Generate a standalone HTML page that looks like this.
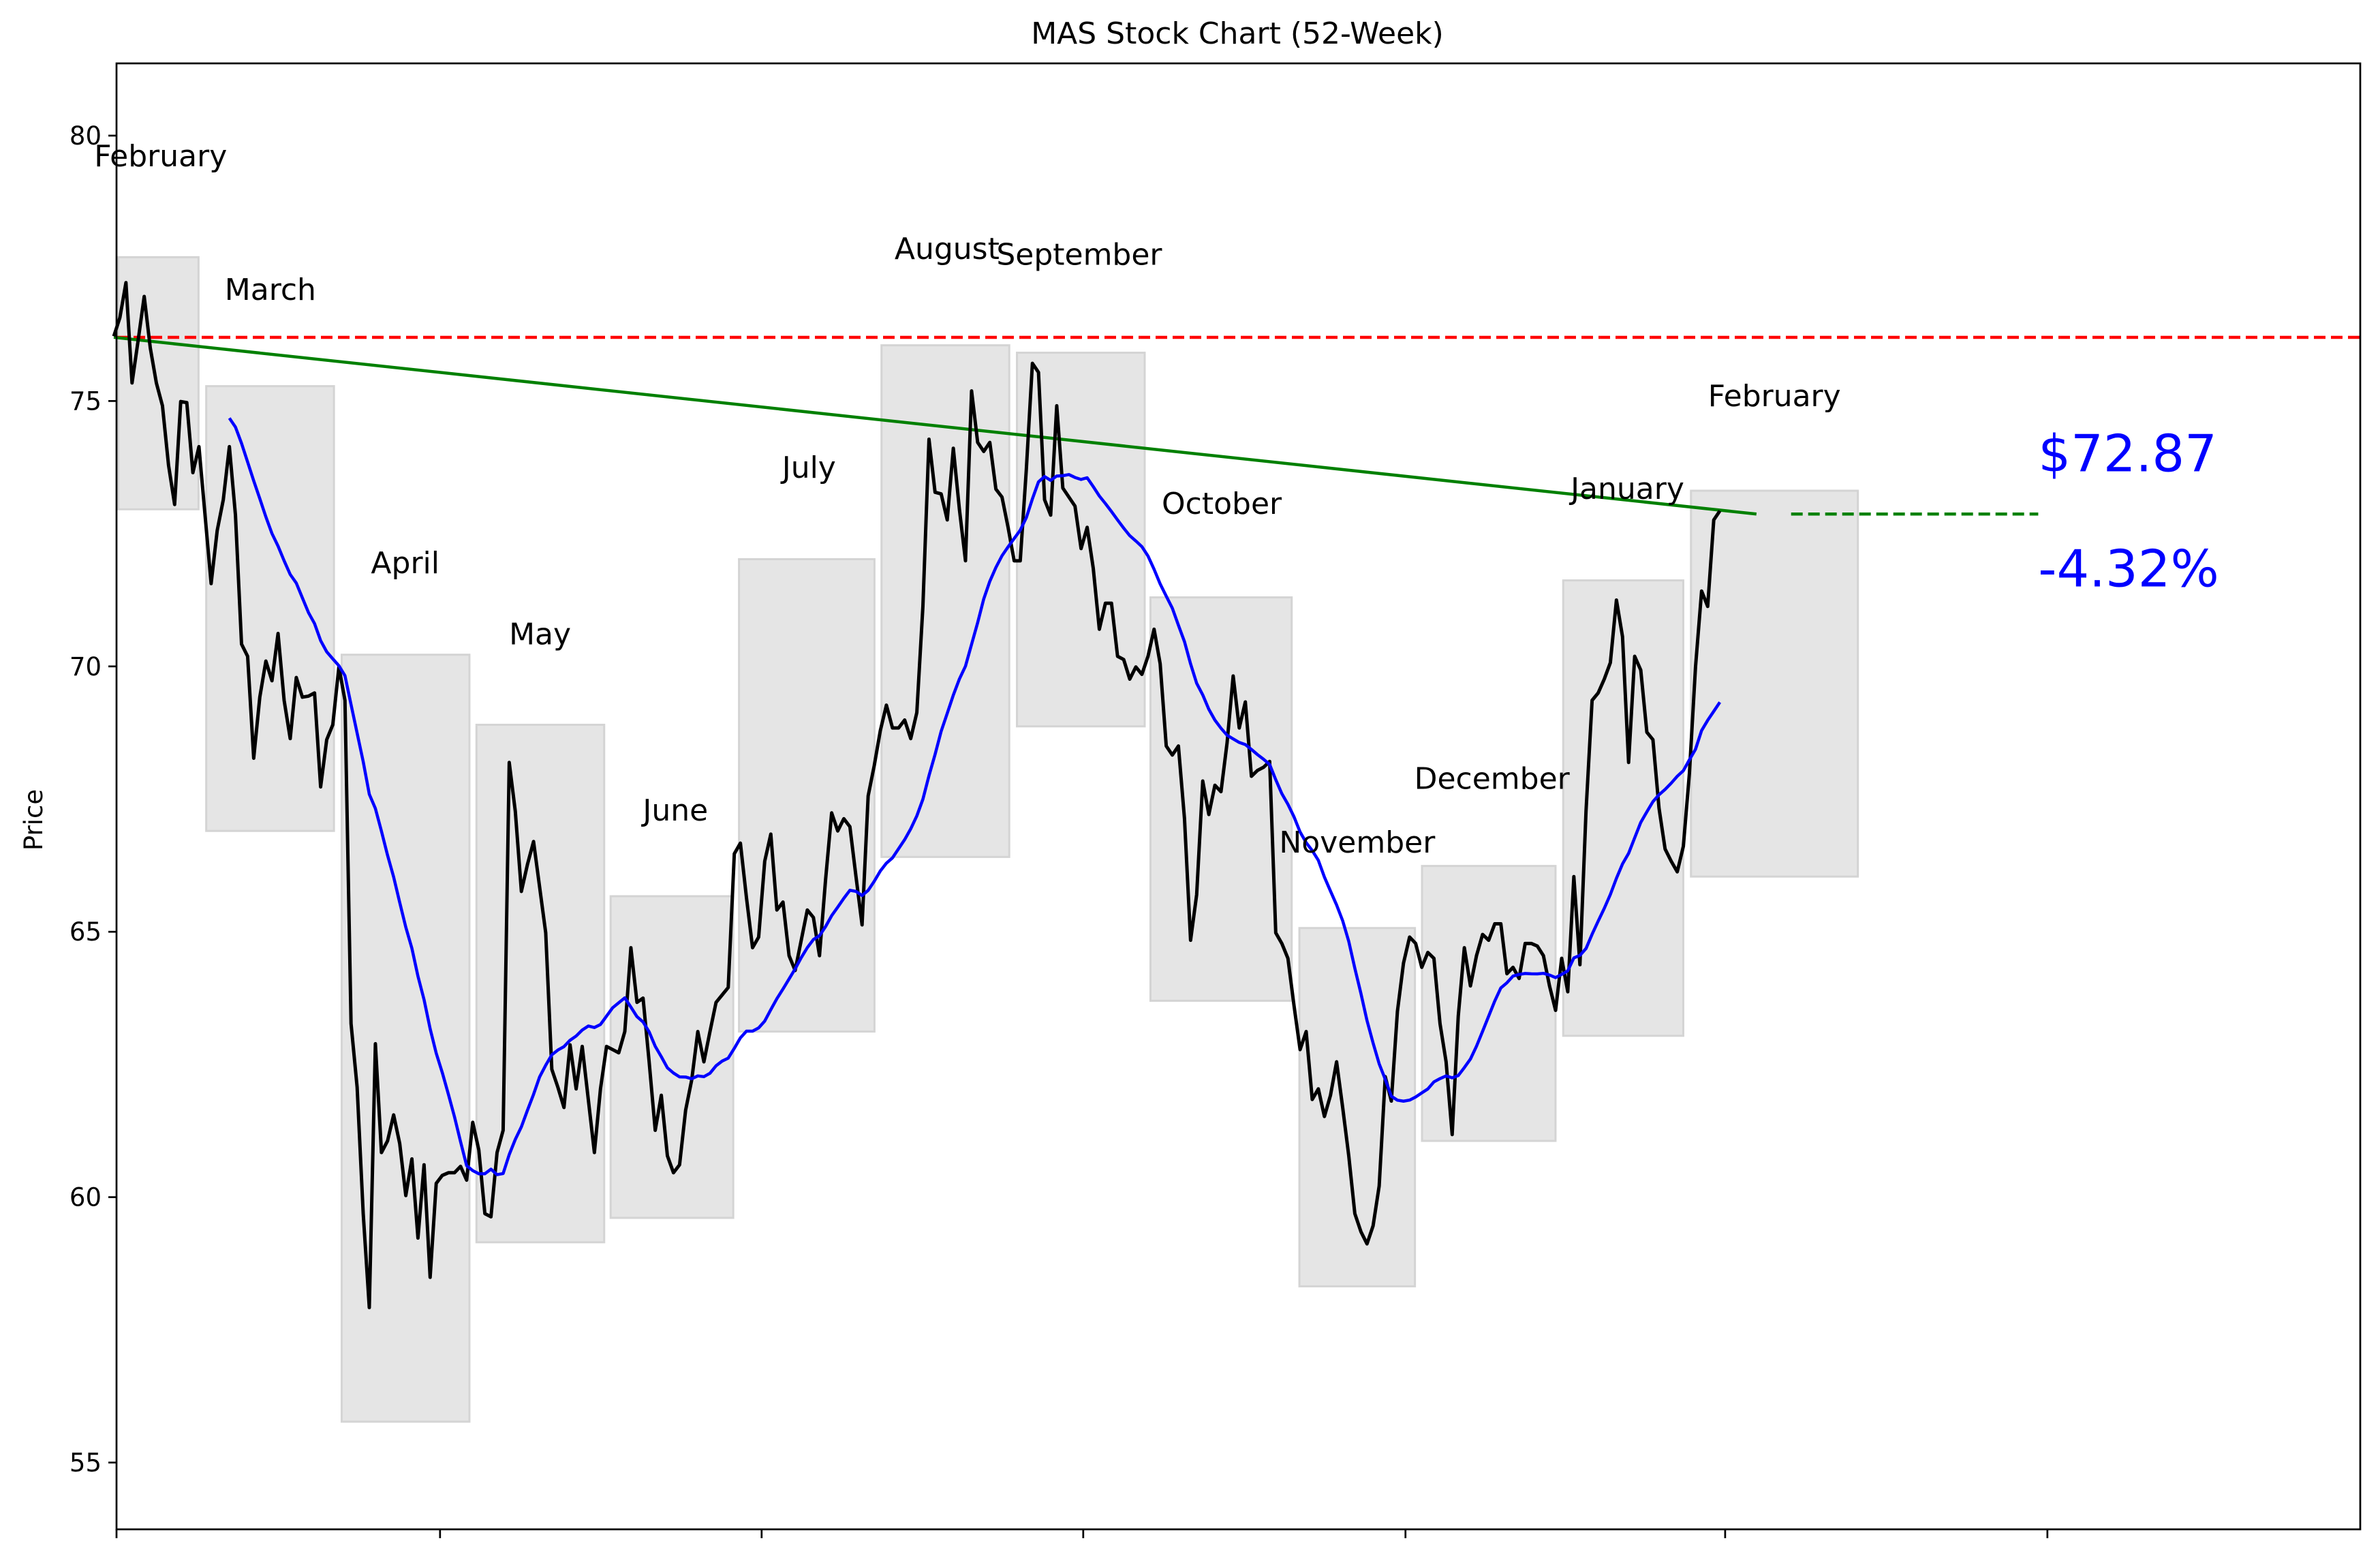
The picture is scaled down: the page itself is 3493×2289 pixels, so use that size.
<!DOCTYPE html>
<html><head><meta charset="utf-8"><style>
html,body{margin:0;padding:0;background:#fff;}
svg{display:block;font-family:"DejaVu Sans","Liberation Sans",sans-serif;}
</style></head><body>
<svg id="chart" width="3493" height="2289" viewBox="0 0 3493 2289" xmlns="http://www.w3.org/2000/svg">
<rect width="3493" height="2289" fill="#fff"/>
<text x="1816" y="64" font-size="44" text-anchor="middle">MAS Stock Chart (52-Week)</text>
<text transform="translate(62,1203) rotate(-90)" font-size="37" text-anchor="middle">Price</text>
<g id="boxes"></g>
<g id="lines"></g>
<g id="labels"></g>
<g id="axes"></g>
</svg>
<script>
const prices = [76.22,76.57,77.23,75.34,76.14,76.97,76.0,75.34,74.91,73.79,73.05,74.99,74.97,73.65,74.14,72.85,71.56,72.56,73.14,74.14,72.85,70.42,70.19,68.27,69.42,70.10,69.73,70.62,69.36,68.64,69.79,69.42,69.44,69.50,67.73,68.62,68.90,69.99,69.36,63.27,62.07,59.69,57.92,62.89,60.84,61.06,61.55,61.01,60.03,60.72,59.23,60.61,58.49,60.26,60.41,60.46,60.46,60.58,60.32,61.41,60.89,59.69,59.63,60.84,61.26,68.19,67.27,65.76,66.27,66.70,65.84,64.98,62.41,62.07,61.69,62.87,62.04,62.84,61.84,60.84,62.04,62.84,62.78,62.72,63.12,64.70,63.67,63.75,62.55,61.26,61.92,60.78,60.46,60.61,61.64,62.21,63.12,62.55,63.12,63.67,63.81,63.95,66.47,66.67,65.64,64.70,64.90,66.33,66.84,65.41,65.56,64.55,64.27,64.84,65.41,65.27,64.55,65.98,67.24,66.90,67.13,66.98,66.04,65.13,67.56,68.13,68.79,69.27,68.84,68.84,68.99,68.64,69.13,71.13,74.28,73.28,73.25,72.76,74.11,72.96,71.99,75.19,74.22,74.05,74.22,73.34,73.19,72.62,71.99,71.99,73.71,75.71,75.54,73.14,72.85,74.91,73.36,73.19,73.02,72.22,72.62,71.85,70.70,71.19,71.19,70.19,70.13,69.76,69.99,69.85,70.19,70.70,70.05,68.50,68.33,68.50,67.13,64.84,65.70,67.84,67.21,67.76,67.64,68.56,69.82,68.84,69.33,67.93,68.04,68.10,68.21,64.98,64.78,64.50,63.61,62.78,63.12,61.84,62.04,61.52,61.92,62.55,61.69,60.78,59.69,59.35,59.12,59.46,60.21,62.27,61.81,63.50,64.41,64.90,64.78,64.33,64.61,64.50,63.27,62.55,61.18,63.41,64.70,63.98,64.55,64.95,64.84,65.15,65.15,64.21,64.33,64.12,64.78,64.78,64.73,64.55,63.98,63.52,64.50,63.87,66.04,64.38,67.27,69.36,69.50,69.76,70.07,71.25,70.56,68.19,70.19,69.93,68.76,68.62,67.33,66.56,66.33,66.13,66.61,67.99,69.99,71.42,71.13,72.76,72.93];
const lastDay = 250.2;
const maWindow = 20;
const monthNames = ["February","March","April","May","June","July","August","September","October","November","December","January","February"];
const boxStart = [0.7,14.4,35.5,56.5,77.4,97.4,119.6,140.7,161.5,184.7,203.8,225.8,245.7];
const boxEnd = [13.2,34.3,55.4,76.4,96.5,118.5,139.5,160.6,183.5,202.7,224.6,244.5,271.7];
const boxHigh = [77.71,75.28,70.22,68.90,65.67,72.02,76.05,75.91,71.30,65.07,66.24,71.62,73.31];
const boxLow = [72.96,66.90,55.77,59.15,59.61,63.12,66.41,68.87,63.70,58.32,61.06,63.04,66.04];
const labelDay = [7.3,24.4,45.4,66.4,87.5,108.3,129.8,150.4,172.6,193.7,214.7,235.8,258.7];
const labelPrice = [79.63,77.11,71.96,70.62,67.30,73.76,77.88,77.77,73.08,66.70,67.90,73.36,75.11];
const yTicks = [55,60,65,70,75,80];
const xTicks = [0,50.4,100.5,150.6,200.8,250.6,300.8];
const refPrice = 76.2;
const trendStart = [0,76.2];
const trendEnd = [255.9,72.87];
const projStart = 261.3, projEnd = 299.8, projPrice = 72.87;
const priceText = "$72.87", changeText = "-4.32%";
const priceTextPos = [299.8,74.02], changeTextPos = [299.8,71.85];

const L=171,R=3464,T=93,B=2244;
const X=d=>167+d*9.421;
const Y=p=>199+(80-p)*77.88;
const NS="http://www.w3.org/2000/svg";
function mk(tag,parent,attrs){const e=document.createElementNS(NS,tag);for(const k in attrs)e.setAttribute(k,attrs[k]);parent.appendChild(e);return e;}
const gB=document.getElementById('boxes'),gL=document.getElementById('lines'),gT=document.getElementById('labels'),gA=document.getElementById('axes');

monthNames.forEach((m,i)=>{
  const r=mk('rect',gB,{x:X(boxStart[i]),y:Y(boxHigh[i]),width:X(boxEnd[i])-X(boxStart[i]),height:Y(boxLow[i])-Y(boxHigh[i]),fill:'#e5e5e5',stroke:'#d4d4d4','stroke-width':3});
  
  
  const t=mk('text',gT,{x:X(labelDay[i]),y:Y(labelPrice[i])+16,'font-size':44,'text-anchor':'middle'});
  t.textContent=m;
  
  
});

const ref=mk('line',gL,{x1:L,x2:R,y1:Y(refPrice),y2:Y(refPrice),stroke:'#ff0000','stroke-width':4.5,'stroke-dasharray':'17,8'});


const tr=mk('line',gL,{x1:X(trendStart[0]),y1:Y(trendStart[1]),x2:X(trendEnd[0]),y2:Y(trendEnd[1]),stroke:'#008000','stroke-width':4.5});


const pj=mk('line',gL,{x1:X(projStart),x2:X(projEnd),y1:Y(projPrice),y2:Y(projPrice),stroke:'#008000','stroke-width':4.5,'stroke-dasharray':'17,8'});



const n=prices.length, step=lastDay/(n-1);
const pp=mk('polyline',gL,{points:prices.map((p,i)=>X(i*step)+','+Y(p)).join(' '),fill:'none',stroke:'#000','stroke-width':5,'stroke-linejoin':'round'});


const ma=[];
for(let i=maWindow-1;i<n;i++){let s=0;for(let j=i-maWindow+1;j<=i;j++)s+=prices[j];ma.push(X(i*step)+','+Y(s/maWindow));}
const mp=mk('polyline',gL,{points:ma.join(' '),fill:'none',stroke:'#0000ff','stroke-width':4.5,'stroke-linejoin':'round'});



const t1=mk('text',gT,{x:X(priceTextPos[0]),y:Y(priceTextPos[1])+27,'font-size':75,fill:'#0000ff'});
t1.textContent=priceText;


const t2=mk('text',gT,{x:X(changeTextPos[0]),y:Y(changeTextPos[1])+27,'font-size':75,fill:'#0000ff'});
t2.textContent=changeText;



const fr=mk('rect',gA,{x:L,y:T,width:R-L,height:B-T,fill:'none',stroke:'#000','stroke-width':2.7});


yTicks.forEach(v=>{
  const tk=mk('line',gA,{x1:L-12,x2:L,y1:Y(v),y2:Y(v),stroke:'#000','stroke-width':2.7});
  
  
  const tl=mk('text',gA,{x:L-22,y:Y(v)+13,'font-size':37,'text-anchor':'end'});
  tl.textContent=v;
  
  
});
xTicks.forEach((d,i)=>{
  const tk=mk('line',gA,{x1:L+(X(d)-167),x2:L+(X(d)-167),y1:B,y2:B+13,stroke:'#000','stroke-width':2.7});
  
  
});
</script>
</body></html>
